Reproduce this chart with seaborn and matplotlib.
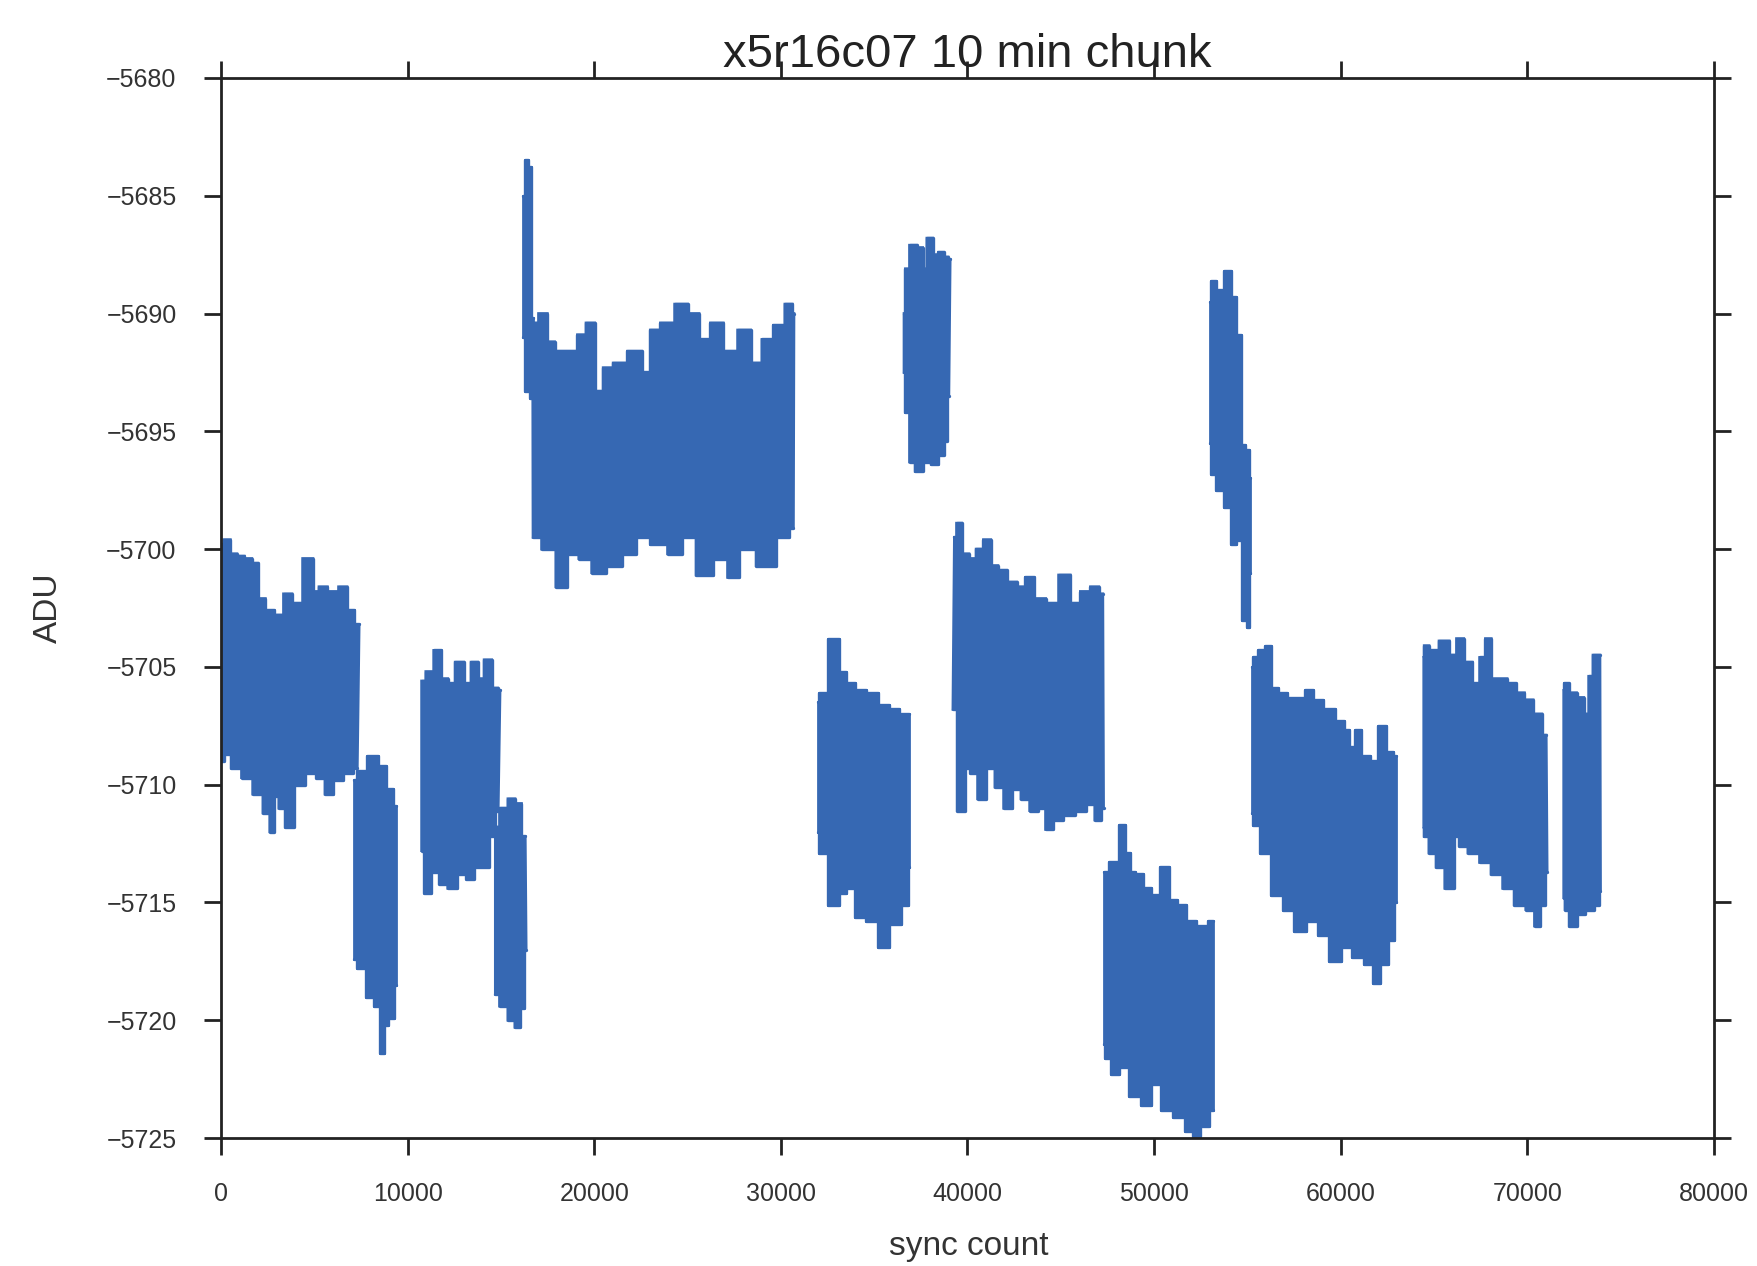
import numpy as np
import pandas as pd
import matplotlib
matplotlib.use("Agg")
import matplotlib.pyplot as plt
import seaborn as sns

# Envelope (upper / lower excursions) of the ADU trace for each contiguous
# stretch of the readout, as (sync count, ADU) pairs.
s01_upper = [(0, -5699.8), (300, -5699.6), (700, -5700.2), (1000, -5700.3), (1500, -5700.4),
             (1800, -5700.6), (2150, -5702.1), (2600, -5702.6), (3100, -5702.8), (3600, -5701.9),
             (4000, -5702.3), (4750, -5700.4), (5100, -5701.8), (5400, -5701.6), (6000, -5701.8),
             (6600, -5701.6), (6900, -5702.6), (7400, -5703.2)]
s01_lower = [(0, -5709.0), (300, -5708.7), (800, -5709.3), (1400, -5709.7), (2000, -5710.4),
             (2500, -5711.2), (2730, -5712.0), (2900, -5710.5), (3300, -5711.0), (3590, -5711.8),
             (4200, -5710.0), (4820, -5709.5), (5400, -5709.7), (5750, -5710.4), (6300, -5709.8),
             (6800, -5709.5), (7300, -5709.3)]

s02_upper = [(7100, -5709.8), (7500, -5709.4), (8190, -5708.8), (8650, -5709.2), (9000, -5710.2),
             (9400, -5710.9)]
s02_lower = [(7100, -5717.4), (7500, -5717.8), (8000, -5719.0), (8400, -5719.4), (8650, -5721.4),
             (8800, -5720.2), (9100, -5719.9), (9400, -5718.5)]

s03_upper = [(10750, -5705.6), (11200, -5705.2), (11600, -5704.3), (12000, -5705.5), (12300, -5705.7),
             (12800, -5704.8), (13200, -5705.7), (13600, -5704.8), (13900, -5705.5), (14300, -5704.7),
             (14700, -5705.9), (14950, -5706.0)]
s03_lower = [(10750, -5712.8), (11050, -5714.6), (11500, -5713.7), (11900, -5714.2), (12400, -5714.4),
             (12900, -5713.8), (13400, -5714.0), (13700, -5713.5), (14200, -5713.5), (14500, -5712.2),
             (14850, -5711.1)]

s04_upper = [(14700, -5711.8), (15150, -5711.0), (15600, -5710.6), (15900, -5710.8), (16300, -5712.2)]
s04_lower = [(14700, -5718.9), (15150, -5719.4), (15600, -5720.0), (15900, -5720.3), (16150, -5719.5),
             (16350, -5717.0)]

s05_upper = [(16180, -5685.0), (16400, -5683.5), (16550, -5683.8), (16700, -5690.2)]
s05_lower = [(16180, -5691.0), (16450, -5693.3), (16700, -5693.6)]

s06_upper = [(16700, -5690.4), (17330, -5690.0), (17640, -5691.2), (18100, -5691.6), (18870, -5691.6),
             (19330, -5690.9), (19790, -5690.4), (20250, -5693.3), (20710, -5692.3), (21320, -5692.1),
             (22240, -5691.6), (22850, -5692.5), (23160, -5690.7), (23930, -5690.4), (24690, -5689.6),
             (25310, -5690.0), (25920, -5691.1), (26530, -5690.4), (27300, -5691.6), (28070, -5690.7),
             (28680, -5692.1), (29290, -5691.1), (29910, -5690.5), (30520, -5689.6), (30700, -5690.0)]
s06_lower = [(16720, -5699.5), (17640, -5700.0), (18250, -5701.6), (18870, -5700.2), (19480, -5700.4),
             (20250, -5701.0), (21010, -5700.7), (21930, -5700.2), (22550, -5699.5), (23470, -5699.8),
             (24390, -5700.2), (25000, -5699.5), (25920, -5701.1), (26840, -5700.4), (27450, -5701.2),
             (28070, -5700.0), (29290, -5700.7), (30210, -5699.5), (30670, -5699.1)]

s07_upper = [(32000, -5706.5), (32120, -5706.1), (32880, -5703.8), (33300, -5705.2), (33700, -5705.7),
             (34260, -5706.0), (34900, -5706.1), (35500, -5706.6), (36100, -5706.8), (36600, -5707.0),
             (36850, -5707.0)]
s07_lower = [(32000, -5712.0), (32120, -5712.9), (32880, -5715.1), (33300, -5714.6), (33700, -5714.4),
             (34260, -5715.6), (34880, -5715.8), (35500, -5716.9), (36100, -5715.9), (36740, -5715.1),
             (36850, -5713.5)]

s08_upper = [(36600, -5690.0), (36740, -5688.1), (37050, -5687.1), (37520, -5687.2), (37670, -5688.1),
             (37980, -5686.8), (38290, -5687.5), (38600, -5687.4), (38850, -5687.6), (39070, -5687.7)]
s08_lower = [(36600, -5692.5), (36740, -5694.2), (37050, -5696.3), (37350, -5696.7), (37830, -5696.3),
             (38290, -5696.4), (38600, -5696.0), (38850, -5695.4), (39000, -5693.5)]

s09_upper = [(39300, -5699.5), (39530, -5698.9), (39840, -5700.2), (40310, -5700.4), (40620, -5700.0),
             (41090, -5699.6), (41400, -5700.7), (41860, -5700.9), (42330, -5701.4), (42950, -5701.6),
             (43260, -5701.2), (43880, -5702.1), (44500, -5702.3), (45270, -5701.1), (45740, -5702.3),
             (46360, -5701.8), (46820, -5701.6), (47250, -5701.9)]
s09_lower = [(39220, -5706.8), (39690, -5711.1), (40000, -5709.3), (40310, -5709.5), (40780, -5710.6),
             (41240, -5709.3), (41710, -5710.1), (42170, -5711.0), (42640, -5710.2), (43100, -5710.6),
             (43570, -5711.1), (44030, -5711.0), (44340, -5711.9), (44810, -5711.5), (45430, -5711.3),
             (46050, -5711.1), (46670, -5710.8), (46980, -5711.5), (47290, -5711.0)]

s10_upper = [(47290, -5713.7), (47910, -5713.3), (48370, -5711.7), (48530, -5712.9), (48840, -5713.7),
             (49150, -5713.8), (49610, -5714.4), (50080, -5714.7), (50540, -5713.5), (51010, -5714.9),
             (51470, -5715.1), (51940, -5715.8), (52560, -5716.0), (53180, -5715.8)]
s10_lower = [(47290, -5721.0), (47440, -5721.6), (47910, -5722.3), (48370, -5722.0), (48990, -5723.2),
             (49610, -5723.6), (50080, -5722.7), (50700, -5723.8), (51320, -5724.1), (51940, -5724.7),
             (52250, -5724.9), (52710, -5724.5), (53180, -5723.8)]

s11_upper = [(53020, -5689.5), (53120, -5688.6), (53490, -5689.0), (53950, -5688.2), (54260, -5689.3),
             (54570, -5690.9), (54730, -5695.6), (55040, -5695.8), (55150, -5697.0)]
s11_lower = [(53020, -5695.5), (53120, -5696.8), (53490, -5697.5), (53950, -5698.2), (54260, -5699.8),
             (54570, -5699.6), (54880, -5703.0), (55040, -5703.3), (55150, -5701.0)]

s12_upper = [(55250, -5705.0), (55350, -5704.6), (55810, -5704.3), (56120, -5704.1), (56430, -5705.9),
             (56900, -5706.1), (57360, -5706.3), (57830, -5706.3), (58290, -5706.0), (58760, -5706.4),
             (59380, -5706.8), (60000, -5707.3), (60310, -5707.7), (60620, -5708.4), (60930, -5707.7),
             (61240, -5708.8), (61860, -5709.0), (62170, -5707.5), (62640, -5708.6), (62950, -5708.8)]
s12_lower = [(55250, -5711.2), (55350, -5711.7), (55970, -5712.9), (56590, -5714.7), (57210, -5715.3),
             (57830, -5716.2), (58450, -5715.8), (59070, -5716.4), (59690, -5717.5), (60310, -5716.9),
             (60930, -5717.3), (61550, -5717.6), (61860, -5718.4), (62330, -5717.6), (62790, -5716.6),
             (62950, -5715.0)]

s13_upper = [(64450, -5704.6), (64500, -5704.1), (64960, -5704.3), (65580, -5703.9), (66050, -5704.5),
             (66360, -5703.8), (66820, -5704.8), (67290, -5705.7), (67600, -5704.6), (67910, -5703.8),
             (68220, -5705.5), (68680, -5705.5), (69150, -5705.7), (69610, -5706.1), (70080, -5706.4),
             (70540, -5707.0), (71010, -5707.9)]
s13_lower = [(64450, -5711.8), (64500, -5712.2), (64960, -5712.9), (65270, -5713.5), (65890, -5714.4),
             (66200, -5712.2), (66510, -5712.6), (67130, -5712.9), (67750, -5713.3), (68370, -5713.8),
             (68990, -5714.4), (69610, -5715.1), (70230, -5715.3), (70540, -5716.0), (70850, -5715.1),
             (71060, -5713.7)]

s14_upper = [(71950, -5706.0), (72030, -5705.7), (72400, -5706.1), (72870, -5706.3), (73180, -5707.0),
             (73400, -5705.4), (73640, -5704.5), (73890, -5704.5)]
s14_lower = [(71950, -5714.8), (72100, -5715.3), (72400, -5716.0), (72870, -5715.5), (73300, -5715.3),
             (73800, -5715.1), (73920, -5714.5)]

segments = [
    (s01_upper, s01_lower), (s02_upper, s02_lower), (s03_upper, s03_lower),
    (s04_upper, s04_lower), (s05_upper, s05_lower), (s06_upper, s06_lower),
    (s07_upper, s07_lower), (s08_upper, s08_lower), (s09_upper, s09_lower),
    (s10_upper, s10_lower), (s11_upper, s11_lower), (s12_upper, s12_lower),
    (s13_upper, s13_lower), (s14_upper, s14_lower),
]

x_ticks = [0, 10000, 20000, 30000, 40000, 50000, 60000, 70000, 80000]
y_ticks = [-5725, -5720, -5715, -5710, -5705, -5700, -5695, -5690, -5685, -5680]

title = "x5r16c07 10 min chunk"
x_label = "sync count"
y_label = "ADU"

trace_color = "#3668b3"

sns.set_style("ticks")
plt.rcParams["font.family"] = ["Liberation Sans", "DejaVu Sans"]
plt.rcParams["axes.edgecolor"] = "#222222"
plt.rcParams["axes.linewidth"] = 1.0

fig = plt.figure(figsize=(1757 / 200, 1266 / 200), dpi=200)
ax = fig.add_axes([0.1258, 0.1011, 0.8497, 0.8373])


def step_path(points):
    """Vertices of a steps-mid outline through the given (x, y) points."""
    xs, ys = [points[0][0]], [points[0][1]]
    for (x0, y0), (x1, y1) in zip(points[:-1], points[1:]):
        m = 0.5 * (x0 + x1)
        xs += [m, m]
        ys += [y0, y1]
    xs.append(points[-1][0])
    ys.append(points[-1][1])
    return xs, ys


# long-form table of envelope traces for seaborn
rows = []
for i, (up, lo) in enumerate(segments):
    for x, y in up:
        rows.append({"sync": x, "ADU": y, "trace": f"{i}u"})
    for x, y in lo:
        rows.append({"sync": x, "ADU": y, "trace": f"{i}l"})
df = pd.DataFrame(rows)

# band interior between the upper and lower excursions of each stretch
for up, lo in segments:
    ux, uy = step_path(up)
    lx, ly = step_path(lo)
    ax.fill(ux + lx[::-1], uy + ly[::-1], color=trace_color, lw=1.0, ec=trace_color,
            joinstyle="miter")

sns.lineplot(data=df, x="sync", y="ADU", units="trace", estimator=None, sort=False,
             color=trace_color, lw=1.2, drawstyle="steps-mid", ax=ax, legend=False)

ax.set_xlim(0, 80000)
ax.set_ylim(-5725, -5680)
ax.set_xticks(x_ticks)
ax.set_yticks(y_ticks)
ax.set_xticklabels([str(t) for t in x_ticks])
ax.set_yticklabels([f"\u2212{abs(t)}" for t in y_ticks])

ax.tick_params(direction="out", length=6, width=1.0, pad=10, labelsize=9,
               colors="#222222", labelcolor="#333333",
               top=True, right=True, labeltop=False, labelright=False)

for s in ax.spines.values():
    s.set_visible(True)
    s.set_color("#222222")

ax.set_xlabel(x_label, fontsize=12, color="#333333")
ax.set_ylabel(y_label, fontsize=12, color="#333333")
ax.xaxis.set_label_coords(0.501, -0.088)
ax.yaxis.set_label_coords(-0.105, 0.5)
ax.set_title(title, fontsize=17, color="#222222", pad=4)

fig.savefig("out.png", dpi=200, facecolor="white")
